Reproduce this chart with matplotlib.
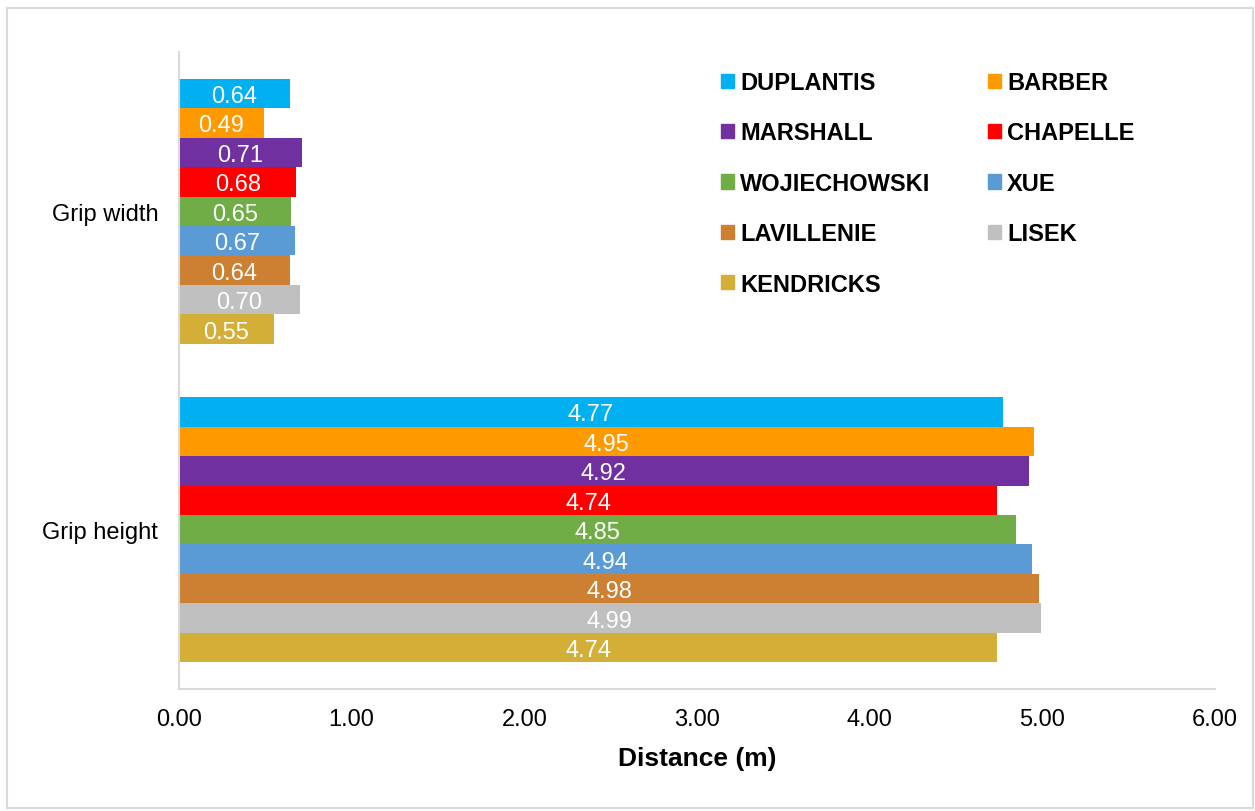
import matplotlib.pyplot as plt
from matplotlib.patches import Patch, Rectangle

plt.rcParams['font.family'] = ['Liberation Sans', 'DejaVu Sans']

# данные
categories = ['Grip height', 'Grip width']
athletes = ['DUPLANTIS', 'BARBER', 'MARSHALL', 'CHAPELLE', 'WOJIECHOWSKI',
            'XUE', 'LAVILLENIE', 'LISEK', 'KENDRICKS']
grip_height = [4.77, 4.95, 4.92, 4.74, 4.85, 4.94, 4.98, 4.99, 4.74]
grip_width = [0.64, 0.49, 0.71, 0.68, 0.65, 0.67, 0.64, 0.70, 0.55]
colors = ['#00B0F0', '#FF9900', '#7030A0', '#FF0000', '#70AD47',
          '#5B9BD5', '#CD7F32', '#C0C0C0', '#D4AF37']
xticks = [0, 1, 2, 3, 4, 5, 6]

fig = plt.figure(figsize=(12.55, 8.12), dpi=100)
ax = fig.add_axes([179 / 1255, 1 - 690 / 812, 1036 / 1255, 637 / 812])

n = len(athletes)
bw = 0.0926
for i in range(n):
    vals = [grip_height[i], grip_width[i]]
    pos = [c + (4 - i) * bw for c in range(len(categories))]
    bars = ax.barh(pos, vals, height=bw, color=colors[i], label=athletes[i])
    lbls = ax.bar_label(bars, fmt='%.2f', label_type='center', color='white',
                        fontsize=17)
    for t in lbls:
        t.set_va('center_baseline')

ax.set_xlim(0, 6)
ax.set_ylim(-0.5, 1.5)
ax.set_xticks(xticks)
ax.set_xticklabels(['%.2f' % t for t in xticks], fontsize=17)
ax.set_yticks(range(len(categories)))
ax.set_yticklabels(categories, fontsize=17)
ax.tick_params(axis='both', length=0)
ax.tick_params(axis='x', pad=14)
ax.tick_params(axis='y', pad=15)
ax.set_xlabel('Distance (m)', fontsize=19, fontweight='bold', labelpad=11)

for s in ['top', 'right']:
    ax.spines[s].set_visible(False)
for s in ['left', 'bottom']:
    ax.spines[s].set_color('#D9D9D9')
    ax.spines[s].set_linewidth(1.5)

# легенда по строкам: 2 колонки
order = [0, 2, 4, 6, 8, 1, 3, 5, 7]
handles = [Patch(color=colors[k]) for k in order]
labels = [athletes[k] for k in order]
leg = fig.legend(handles, labels, ncol=2, loc='upper left',
                 bbox_to_anchor=(721 / 1255, 1 - 72 / 812), frameon=False,
                 prop={'size': 17, 'weight': 'bold'}, handlelength=0.55,
                 handleheight=0.55, handletextpad=0.25, columnspacing=2.45,
                 labelspacing=1.16, borderpad=0, borderaxespad=0)

fig.patches.append(Rectangle((7 / 1255, 3 / 812), 1246 / 1255, 800 / 812,
                             transform=fig.transFigure, fill=False,
                             edgecolor='#D9D9D9', linewidth=1.5))

fig.savefig('out.png', dpi=100)
